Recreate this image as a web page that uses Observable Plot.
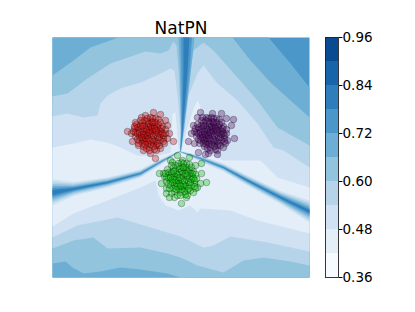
<!DOCTYPE html>
<html><head><meta charset="utf-8">
<script src="https://cdn.jsdelivr.net/npm/d3@7"></script>
<script src="https://cdn.jsdelivr.net/npm/@observablehq/plot@0.6"></script>
<style>
html,body{margin:0;padding:0;background:#fff}
#c{position:relative;width:415px;height:312px;font-family:"DejaVu Sans"}
#c svg{position:absolute;left:0;top:0;background:transparent;overflow:visible}
#c svg.field{filter:blur(0.55px)}
</style></head><body><div id="c"></div>
<script>
const levelEdges=[0.36,0.42,0.48,0.54,0.60,0.66,0.72,0.78,0.84,0.90,0.96];
const levelColors=["#f7fbff","#e3eef9","#cfe1f2","#b5d4e9","#93c4de","#6daed5","#4b97c9","#2f7ebc","#1864aa","#0a4a90"];
const tickValues=[0.36,0.48,0.60,0.72,0.84,0.96];
const panelX=[52,309], panelY=[37,277];

// filled regions "field below level"
const below78=[[52,37],[309,37],[309,277],[52,277]];
const below72=[[52,37],[268,37],[290,63],[309,87],[309,277],[52,277]];
const below66=[[52,75],[73,60],[90,47],[118,37],[232,37],[250,60],[270,82],[290,100],[309,117],[309,277],[180,277],[167,273],[140,269],[120,267],[100,271],[83,273],[72,267],[65,261],[52,263]];
const below60=[[52,96],[67,93],[87,78],[110,63],[145,51],[160,53],[168,50],[173,41],[176,45],[178,70],[180,110],[181,148],[183,110],[188,80],[193,50],[203,42],[213,50],[237,77],[257,100],[277,127],[309,145],[309,265],[290,261],[263,257],[243,260],[223,272],[197,265],[180,257],[167,253],[140,247],[107,248],[93,237],[73,240],[52,248]];
const below54=[[52,116],[67,113],[83,117],[97,115],[100,103],[107,95],[120,88],[140,82],[160,73],[170,68],[174,70],[177,95],[180,130],[181,149],[184,130],[188,95],[197,73],[203,65],[217,83],[237,100],[257,123],[273,147],[283,150],[309,167],[309,251],[267,242],[230,236],[213,245],[203,247],[180,236],[140,224],[117,217],[77,225],[52,237]];
const below48=[[52,147],[73,143],[90,139],[107,142],[120,147],[137,155],[155,156],[170,152],[172,113],[175,112],[178,148],[181,150],[186,130],[193,108],[197,100],[200,106],[200,125],[200,150],[223,160],[260,160],[277,177],[309,187],[309,233],[257,220],[230,210],[200,208],[197,212],[190,205],[178,210],[165,205],[158,195],[155,180],[140,187],[107,200],[73,213],[52,226]];
const below42=[[165,185],[168,197],[178,201],[190,199],[196,188],[198,172],[172,167]];

// ridges: position, centre, half-widths of levels 0.48 0.54 0.60 0.66 0.72 0.78
const ridgeLeft=[[52,192,13,10.5,8.5,6.5,4.5,2.5],[73,188.5,7,5.5,4.2,3,2,1],[107,182,5,4,3,2,1.2,0.5],[140,173,4,3,2.2,1.5,0.8,0.2],[160,161.5,3,2,1.5,1,0.5,0],[179,151,0.5,0.4,0.3,0.2,0.1,0]];
const ridgeRight=[[179,151,0.5,0.4,0.3,0.2,0.1,0],[200,158,3,2.5,1.5,1,0.5,0],[223,167,4,3,2,1.5,0.8,0.2],[247,180,5,4,3,2,1.2,0.5],[280,197,6.5,5,4,3,1.8,0.8],[309,211,11,9,7,5,3,1.5]];
const ridgeTop=[[37,186,0,0,0,8,5.5,3],[70,185,0,0,0,5.5,4,2],[100,183.5,0,0,0,3.5,2.5,1.2],[130,181.8,0,0,0,1.5,1,0.4],[151,180,0,0,0,0.5,0.3,0]];

const redPts=[[153,112],[160,114],[145,115],[135,122],[127,131],[131,133],[134,128],[132,141],[138,145],[143,150],[150,153],[155,158],[160,148],[173,141],[167,138],[169,133],[167,125],[165,120],[150,133],[145,128],[155,130],[148,138],[157,137],[141,134],[152,124],[144,141],[161,131],[138,129],[147,121],[158,124],[153,143],[163,138],[142,122],[135,136],[149,147],[159,145],[146,133],[153,136],[139,140],[143,146],[155,118],[150,117],[162,126],[136,124],[141,117],[165,133],[156,150],[151,128],[147,143],[158,119],[133,131],[164,143],[154,149],[144,135],[140,125],[160,134],[148,126],[156,141],[152,139],[146,148],[137,133],[151,121],[142,139],[158,129],[154,126],[149,130]];
const redCore=[[147,135],[152,131],[143,131],[155,134],[150,126],[145,138],[158,133],[141,128],[153,141],[148,123],[161,128],[139,136],[144,125],[157,126],[150,144],[163,135],[137,127],[146,141],[155,122],[142,143],[160,140],[135,132],[152,118],[147,118],[165,129],[138,143],[156,145],[144,120],[160,122],[149,150],[140,120],[163,141],[134,126],[151,135],[146,129],[156,130],[141,137],[149,140],[154,128],[143,134],[159,137],[137,139],[148,132],[153,146],[145,144],[162,133],[139,132],[152,122],[157,143],[142,126]];
const purplePts=[[200,112],[197,117],[221,113],[233,119],[231,125],[234,138],[227,140],[193,125],[191,133],[188,141],[194,143],[198,152],[205,154],[208,153],[217,154],[223,147],[226,118],[212,113],[206,117],[211,133],[206,128],[216,130],[209,138],[218,137],[202,134],[213,124],[205,141],[222,131],[199,129],[208,121],[219,124],[214,143],[224,138],[203,122],[196,136],[210,147],[220,145],[207,133],[214,136],[200,140],[204,146],[216,118],[211,117],[223,126],[197,124],[202,117],[226,133],[217,150],[212,128],[208,143],[219,119],[194,131],[225,143],[215,149],[205,135],[201,125],[221,134],[209,126],[217,141],[213,139],[207,148],[198,133],[212,121],[203,139],[219,129],[215,126],[210,130]];
const purpleCore=[[208,135],[213,131],[204,131],[216,134],[211,126],[206,138],[219,133],[202,128],[214,141],[209,123],[222,128],[200,136],[205,125],[218,126],[211,144],[224,135],[198,127],[207,141],[216,122],[203,143],[221,140],[196,132],[213,118],[208,118],[226,129],[199,143],[217,145],[205,120],[221,122],[210,150],[201,120],[224,141],[195,128],[212,135],[207,129],[217,130],[202,137],[210,140],[215,128],[204,134],[220,137],[198,139],[209,132],[214,146],[206,144],[223,133],[200,132],[213,122],[218,143],[203,126]];
const greenPts=[[159,173],[163,173],[161,183],[166,188],[166,193],[171,193],[174,197],[169,197],[181,203],[186,197],[193,192],[201,163],[201,173],[206,182],[200,183],[197,187],[177,155],[189,157],[170,160],[195,165],[182,160],[181,178],[176,173],[186,175],[179,183],[188,182],[172,179],[183,169],[175,186],[192,176],[169,174],[178,166],[189,169],[184,188],[194,183],[173,167],[166,181],[180,192],[190,190],[177,178],[184,181],[170,185],[174,191],[186,163],[181,162],[193,171],[167,169],[172,162],[196,178],[187,195],[182,173],[178,188],[189,164],[164,176],[195,188],[185,194],[175,180],[171,172],[191,179],[179,172],[187,186],[183,184],[177,195],[168,177],[182,167],[190,173],[186,170],[180,186]];
const greenCore=[[178,180],[183,176],[174,176],[186,179],[181,171],[176,183],[189,178],[172,173],[184,186],[179,168],[192,173],[170,181],[175,170],[188,171],[181,189],[194,180],[168,172],[177,186],[186,167],[173,188],[191,185],[166,177],[183,163],[178,163],[195,174],[169,188],[187,190],[175,165],[191,167],[180,195],[171,165],[194,186],[165,173],[182,180],[177,174],[187,175],[172,182],[180,185],[185,173],[174,179],[190,182],[168,184],[179,177],[184,191],[176,189],[193,178],[170,177],[183,167],[188,188],[173,171]];

const table=(ring,level)=>ring.map(([x,y])=>({x,y,level}));
const regions=[
 ...table(below78,6),...table(below72,5),...table(below66,4),...table(below60,3),
 ...table(below54,2),...table(below48,1),...table(below42,0)];
function ridgeRings(rows,horizontal){
  const out=[];
  for(let k=0;k<6;k++){
    const w=r=>r[2+k], a=rows.map(r=>[r[0],r[1]-w(r)]), b=rows.slice().reverse().map(r=>[r[0],r[1]+w(r)]);
    const ring=[...a,...b].map(p=>horizontal?{x:p[0],y:p[1]}:{x:p[1],y:p[0]});
    if(rows.some(r=>w(r)>0)) out.push({ring,k});
  }
  return out;
}
const ridgeData=[];
[[ridgeLeft,true,"L"],[ridgeRight,true,"R"],[ridgeTop,false,"T"]].forEach(([rows,h,id])=>{
  ridgeRings(rows,h).forEach(o=>o.ring.forEach(p=>ridgeData.push({...p,level:o.k+2,id:id+o.k})));
});
const ridgeIds=[...new Set(ridgeData.map(d=>d.id))].sort((a,b)=>a.slice(1)-b.slice(1));
const pointsOf=(pts,c)=>Plot.dot(pts,{x:d=>d[0],y:d=>d[1],r:3.3,fill:c,fillOpacity:0.32,stroke:"#000",strokeOpacity:0.33,strokeWidth:0.8});

const main=Plot.plot({
  width:415,height:312,marginLeft:panelX[0],marginRight:415-panelX[1],marginTop:panelY[0],marginBottom:312-panelY[1],
  x:{domain:panelX,axis:null},y:{domain:panelY,reverse:true,axis:null},
  marks:[
    ...[6,5,4,3,2,1,0].map(l=>Plot.line(regions.filter(d=>d.level===l),{x:"x",y:"y",fill:levelColors[l],stroke:"none"})),
    ...ridgeIds.map(id=>{const rows=ridgeData.filter(d=>d.id===id);return Plot.line(rows,{x:"x",y:"y",fill:levelColors[rows[0].level],stroke:"none"});}),
    pointsOf(redPts,"#d80000"),pointsOf(redCore,"#d80000"),
    pointsOf(purplePts,"#500060"),pointsOf(purpleCore,"#500060"),
    pointsOf(greenPts,"#00c800"),pointsOf(greenCore,"#00c800")
  ]
});
main.classList.add("field");
const bandRows=levelColors.map((c,i)=>({lo:levelEdges[i],hi:levelEdges[i+1],c}));
const bar=Plot.plot({
  width:415,height:312,marginLeft:325,marginRight:77,marginTop:37,marginBottom:35,
  x:{domain:[0,1],axis:null},y:{domain:[0.36,0.96],axis:null},
  marks:[
    Plot.rectY(bandRows,{x1:0,x2:1,y1:"lo",y2:"hi",fill:"c"}),
    Plot.frame({stroke:"#222",strokeWidth:0.9}),
    Plot.axisY({anchor:"right",ticks:tickValues,tickFormat:d3.format(".2f"),tickSize:3.5,tickPadding:0.5,fontSize:13.5,fontFamily:"DejaVu Sans",label:null,color:"#000"}),
    Plot.text(["NatPN"],{frameAnchor:"top-left",dx:180.5-325,dy:-4,text:d=>d,fontSize:17,fontFamily:"DejaVu Sans",fill:"#000",lineAnchor:"bottom",textAnchor:"middle"})
  ]
});
document.getElementById("c").append(main,bar);
</script></body></html>
